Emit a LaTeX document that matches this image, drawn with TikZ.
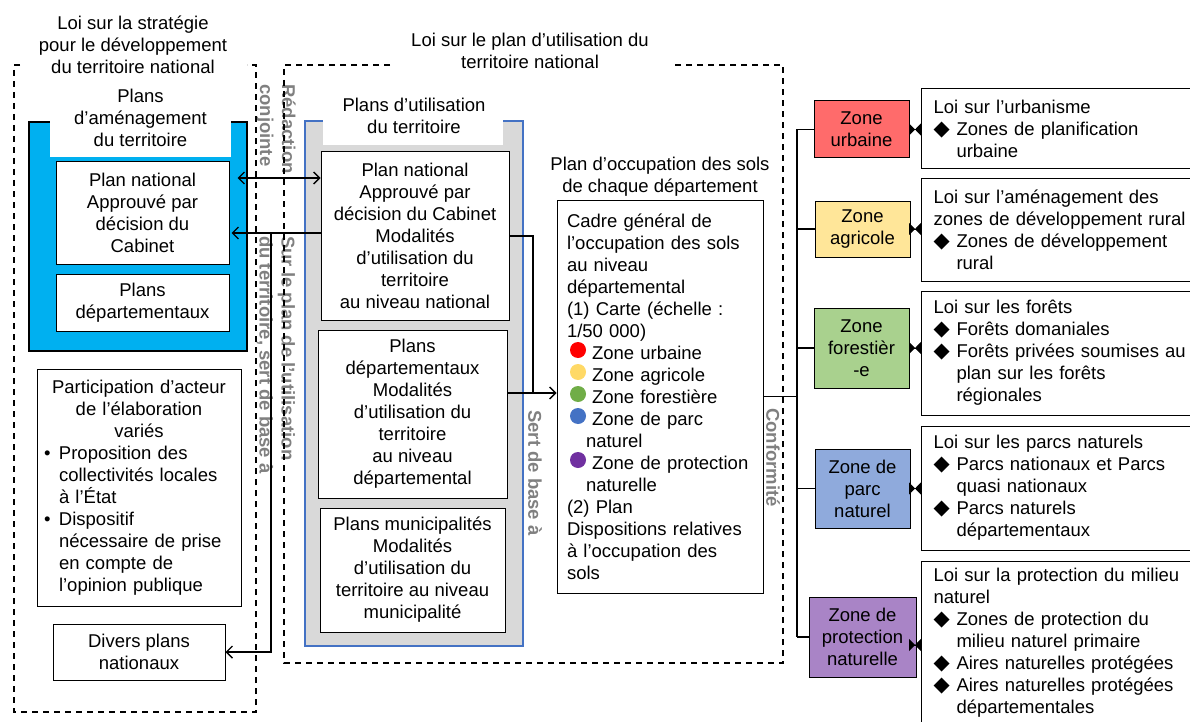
\documentclass[tikz,border=0pt]{standalone}
\usepackage{fontspec}
\setmainfont{Liberation Sans}
\newfontfamily\dejavu{DejaVu Sans}
\usetikzlibrary{arrows.meta}
\definecolor{cyanbox}{HTML}{00B0F0}
\definecolor{graybox}{HTML}{D9D9D9}
\definecolor{grayborder}{HTML}{4472C4}
\definecolor{txtgray}{HTML}{808080}
\definecolor{zred}{HTML}{FF6B6B}
\definecolor{zyellow}{HTML}{FFE699}
\definecolor{zgreen}{HTML}{A9D18E}
\definecolor{zblue}{HTML}{8FAADC}
\definecolor{zpurple}{HTML}{A984C6}
\definecolor{dred}{HTML}{FF0000}
\definecolor{dyellow}{HTML}{FFD966}
\definecolor{dgreen}{HTML}{70AD47}
\definecolor{dblue}{HTML}{4472C4}
\definecolor{dpurple}{HTML}{7030A0}
\newcommand{\dmd}{\makebox[23pt][l]{\dejavu\fontsize{21}{22}\selectfont ◆}}
\newcommand{\indt}{\hspace*{23pt}}
\newcommand{\bul}{\makebox[15pt][l]{•}}
\newcommand{\bind}{\hspace*{15pt}}
\begin{document}
\begin{tikzpicture}[x=1pt,y=-1pt,
  every node/.style={font=\fontsize{18.5}{22}\selectfont, inner sep=0pt},
  box/.style={draw, line width=1pt, fill=white, align=center},
  lbox/.style={draw, line width=1pt, fill=white, align=left, inner xsep=12pt, text width=262pt, anchor=west},
  zbox/.style={draw, line width=1pt, align=center},
  rot/.style={rotate=-90, anchor=west, align=left, text=txtgray, font=\fontsize{18.5}{22}\selectfont\bfseries},
  dashbox/.style={line width=1.3pt, dash pattern=on 6pt off 5pt},
  conn/.style={line width=1.4pt},
  arr/.style={conn, -{Straight Barb[length=6pt,width=12pt]}},
  biarr/.style={conn, {Straight Barb[length=6pt,width=12pt]}-{Straight Barb[length=6pt,width=12pt]}},
  bow/.style={line width=1pt, {Triangle[reversed,length=6pt,width=12pt]}-{Triangle[reversed,length=6pt,width=12pt]}}
]
\useasboundingbox (0,0) rectangle (1190,722);

% rotated grey labels
\node[rot] (rc) at (276,84) {Rédaction\\conjointe};
\node[rot] (sp) at (276,236) {Sur le plan de l’utilisation\\du territoire, sert de base à};
\node[rot] (sb) at (535,410) {Sert de base à};
\node[rot] (cf) at (773,408) {Conformité};

% dashed law frames
\draw[dashbox] (20,65) -- (14,65) -- (14,712) -- (256,712) -- (256,65) -- (247,65);
\draw[dashbox] (390,65) -- (284,65) -- (284,663) -- (783,663) -- (783,65) -- (675,65);
\node[align=center] (t1) at (133,44.5) {Loi sur la stratégie\\pour le développement\\du territoire national};
\node[align=center] (t2) at (530,51) {Loi sur le plan d’utilisation du\\territoire national};

% blue frame
\node[draw, line width=2pt, fill=cyanbox, minimum width=218pt, minimum height=229pt] (amen) at (138,236.5) {};
\fill[white] (50,84) rectangle (231,157);
\node[align=center] (amt) at (140.5,118) {Plans\\d’aménagement\\du territoire};
\node[box, minimum width=173pt, minimum height=102pt] (pn1) at (142.5,213) {Plan national\\Approuvé par\\décision du\\Cabinet};
\node[box, minimum width=173pt, minimum height=57pt] (pd1) at (142.5,302.5) {Plans\\départementaux};

\node[box, align=left, text width=190pt, minimum width=204pt, minimum height=237pt] (part) at (139,487.5)
 {\makebox[\linewidth]{Participation d’acteur}\\\makebox[\linewidth]{de l’élaboration}\\\makebox[\linewidth]{variés}\\\bul Proposition des\\\bind collectivités locales\\\bind à l’État\\\bul Dispositif\\\bind nécessaire de prise\\\bind en compte de\\\bind l’opinion publique};
\node[box, minimum width=172pt, minimum height=56pt] (divers) at (139,652) {Divers plans\\nationaux};

% grey frame
\node[draw=grayborder, line width=1.5pt, fill=graybox, minimum width=218pt, minimum height=525pt] (util) at (414,383.5) {};
\fill[white] (323,95) rectangle (503,145);
\node[align=center] (ut) at (414,116) {Plans d’utilisation\\du territoire};
\node[box, minimum width=188pt, minimum height=168pt] (pn2) at (415,236) {Plan national\\Approuvé par\\décision du Cabinet\\Modalités\\d’utilisation du\\territoire\\au niveau national};
\node[box, minimum width=189pt, minimum height=168pt] (pd2) at (412.5,414) {Plans\\départementaux\\Modalités\\d’utilisation du\\territoire\\au niveau\\départemental};
\node[box, minimum width=185pt, minimum height=124pt] (pm2) at (412.5,570) {Plans municipalités\\Modalités\\d’utilisation du\\territoire au niveau\\municipalité};

% occupation plan
\node[align=center] (ot) at (660,176.5) {Plan d’occupation des sols\\de chaque département};
\node[box, align=left, text width=186pt, inner xsep=10pt, minimum height=393pt] (occ) at (660,396.5)
 {Cadre général de\\l’occupation des sols\\au niveau\\départemental\\(1) Carte (échelle :\\1/50 000)\\\hspace*{25pt}Zone urbaine\\\hspace*{25pt}Zone agricole\\\hspace*{25pt}Zone forestière\\\hspace*{25pt}Zone de parc\\\hspace*{19pt}naturel\\\hspace*{25pt}Zone de protection\\\hspace*{19pt}naturelle\\(2) Plan\\Dispositions relatives\\à l’occupation des\\sols};
\fill[dred] (578,350) circle[radius=8pt];
\fill[dyellow] (578,372) circle[radius=8pt];
\fill[dgreen] (578,394) circle[radius=8pt];
\fill[dblue] (578,416) circle[radius=8pt];
\fill[dpurple] (578,460) circle[radius=8pt];

% zones
\node[zbox, fill=zred, minimum width=95pt, minimum height=57pt] (zu) at (861.5,129.5) {Zone\\urbaine};
\node[zbox, fill=zyellow, minimum width=95pt, minimum height=56pt] (za) at (862.5,229) {Zone\\agricole};
\node[zbox, fill=zgreen, minimum width=95pt, minimum height=80pt] (zf) at (861.5,348) {Zone\\forestièr\\-e};
\node[zbox, fill=zblue, minimum width=95pt, minimum height=79pt] (zp) at (862.5,488.5) {Zone de\\parc\\naturel};
\node[zbox, fill=zpurple, minimum width=107pt, minimum height=80pt] (zn) at (862.5,637) {Zone de\\protection\\naturelle};

% laws
\node[lbox, minimum height=80pt] (l1) at (921,129) {Loi sur l'urbanisme\\\dmd Zones de planification\\\indt urbaine};
\node[lbox, minimum height=102pt] (l2) at (921,230) {Loi sur l’aménagement des\\zones de développement rural\\\dmd Zones de développement\\\indt rural};
\node[lbox, minimum height=124pt] (l3) at (921,353) {Loi sur les forêts\\\dmd Forêts domaniales\\\dmd Forêts privées soumises au\\\indt plan sur les forêts\\\indt régionales};
\node[lbox, minimum height=124pt] (l4) at (921,488) {Loi sur les parcs naturels\\\dmd Parcs nationaux et Parcs\\\indt quasi nationaux\\\dmd Parcs naturels\\\indt départementaux};
\node[lbox, minimum height=163pt] (l5) at (921,642.5) {Loi sur la protection du milieu\\naturel\\\dmd Zones de protection du\\\indt milieu naturel primaire\\\dmd Aires naturelles protégées\\\dmd Aires naturelles protégées\\\indt départementales};

% connectors
\coordinate (a1) at ([shift={(8,-35)}]pn1.east);
\draw[biarr] (a1) -- (a1 -| pn2.west);
\coordinate (b1) at ([shift={(0,-3)}]pn2.west);
\coordinate (b2) at ([xshift=2pt]pn1.east);
\draw[arr] (b1) -- (b1 -| b2);
\coordinate (vx) at (271,0);
\draw[arr] (vx |- b1) -- (vx |- divers.east) -- (divers.east);
\coordinate (cx) at (533,0);
\coordinate (r2) at ([shift={(0,-21)}]pd2.east);
\draw[conn] (pn2.east) -- (cx |- pn2.east) -- (cx |- r2);
\draw[arr] (r2) -- (r2 -| occ.west);
\coordinate (tx) at (797,0);
\draw[conn] (occ.east) -- (tx |- occ.east);
\draw[conn] (tx |- zu.west) -- (tx |- zn.west);
\foreach \z in {zu,za,zf,zp,zn} \draw[conn] (tx |- \z.west) -- (\z.west);
\draw[bow] ([xshift=-12pt]l1.west |- zu.east) -- (l1.west |- zu.east);
\draw[bow] ([xshift=-12pt]l2.west |- za.east) -- (l2.west |- za.east);
\draw[bow] ([xshift=-12pt]l3.west |- zf.east) -- (l3.west |- zf.east);
\draw[bow] ([xshift=-12pt]l4.west |- zp.east) -- (l4.west |- zp.east);
\coordinate (zn2) at ([shift={(0,8)}]zn.east);
\draw[bow] ([xshift=-12pt]l5.west |- zn2) -- (l5.west |- zn2);
\end{tikzpicture}
\end{document}
